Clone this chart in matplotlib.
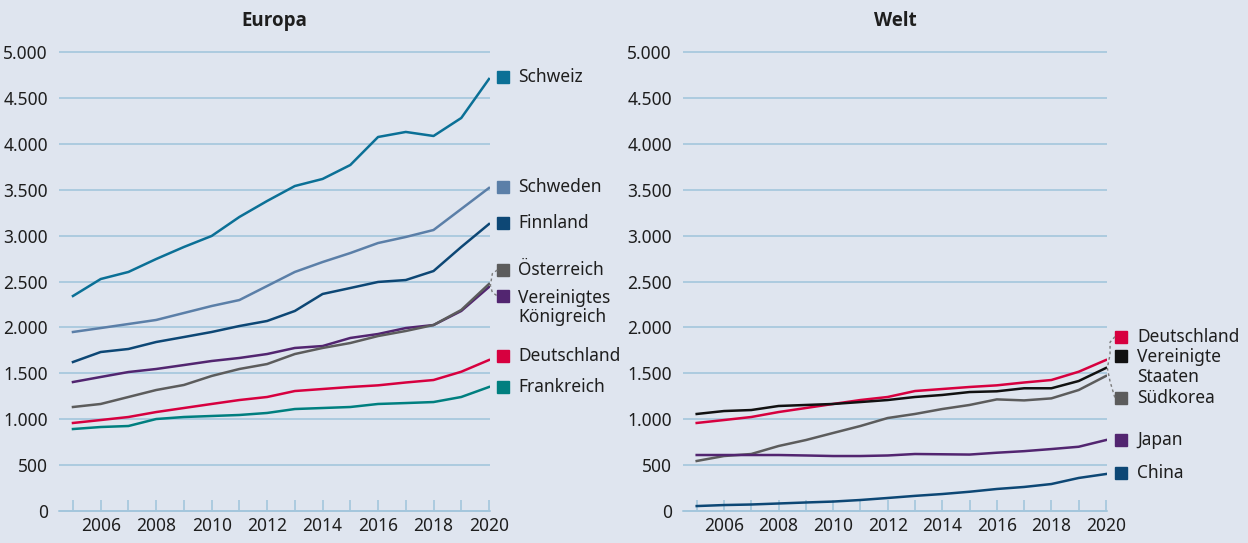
import numpy as np
import matplotlib.pyplot as plt
from matplotlib.ticker import FuncFormatter, MultipleLocator

plt.rcParams['font.family'] = ['Noto Sans', 'DejaVu Sans']

# Data
years = list(range(2005, 2021))

europa = {
    "Schweiz": [2342, 2527, 2604, 2745, 2876, 2996, 3203, 3377, 3540, 3617, 3769, 4074, 4129, 4085, 4281, 4706],
    "Schweden": [1950, 1993, 2037, 2081, 2157, 2233, 2298, 2451, 2604, 2712, 2810, 2919, 2985, 3061, 3290, 3519],
    "Finnland": [1623, 1732, 1765, 1841, 1895, 1950, 2015, 2070, 2179, 2364, 2429, 2495, 2516, 2614, 2876, 3126],
    "Vereinigtes\nKönigreich": [1405, 1460, 1514, 1547, 1590, 1634, 1667, 1710, 1776, 1797, 1885, 1928, 1993, 2026, 2179, 2440],
    "Österreich": [1133, 1166, 1242, 1318, 1373, 1471, 1547, 1601, 1710, 1776, 1830, 1906, 1961, 2026, 2190, 2473],
    "Deutschland": [959, 991, 1024, 1078, 1122, 1166, 1209, 1242, 1307, 1329, 1351, 1369, 1400, 1427, 1517, 1645],
    "Frankreich": [893, 915, 926, 1002, 1024, 1035, 1046, 1068, 1111, 1122, 1133, 1166, 1176, 1187, 1242, 1351],
}
europa_colors = {
    "Schweiz": "#0b7096",
    "Schweden": "#5b7fa8",
    "Finnland": "#0d4775",
    "Vereinigtes\nKönigreich": "#522570",
    "Österreich": "#5c5c5c",
    "Deutschland": "#d7003f",
    "Frankreich": "#007f7f",
}
# label positions (value units) on the right of the plot
europa_label_y = {
    "Schweiz": 4728, "Schweden": 3529, "Finnland": 3137, "Österreich": 2625,
    "Vereinigtes\nKönigreich": 2342, "Deutschland": 1688, "Frankreich": 1350,
}

welt = {
    "Deutschland": [959, 991, 1024, 1078, 1122, 1166, 1209, 1242, 1307, 1329, 1351, 1369, 1400, 1427, 1517, 1645],
    "Vereinigte\nStaaten": [1057, 1089, 1100, 1144, 1155, 1166, 1187, 1209, 1242, 1264, 1296, 1304, 1337, 1337, 1416, 1558],
    "Südkorea": [545, 599, 621, 708, 773, 850, 926, 1013, 1057, 1111, 1155, 1216, 1205, 1227, 1318, 1471],
    "Japan": [610, 610, 610, 610, 605, 599, 599, 605, 621, 618, 615, 635, 652, 675, 700, 773],
    "China": [54, 65, 71, 82, 93, 103, 120, 142, 165, 185, 210, 240, 262, 294, 360, 403],
}
welt_colors = {
    "Deutschland": "#d7003f",
    "Vereinigte\nStaaten": "#111111",
    "Südkorea": "#5c5c5c",
    "Japan": "#522570",
    "China": "#0d4775",
}
welt_label_y = {
    "Deutschland": 1899, "Vereinigte\nStaaten": 1692, "Südkorea": 1231,
    "Japan": 774, "China": 414,
}

bg = "#dfe5ef"
grid_c = "#a3c6dc"
text_c = "#1e1e1e"

fig = plt.figure(figsize=(12.48, 5.43), dpi=100)
fig.patch.set_facecolor(bg)

W, H = 1248, 543


def setup(ax, title):
    ax.set_facecolor(bg)
    ax.set_xlim(2004.5, 2020.04)
    ax.set_ylim(-100, 5100)
    for s in ['top', 'right', 'left']:
        ax.spines[s].set_visible(False)
    ax.spines['bottom'].set_position(('data', 0))
    ax.spines['bottom'].set_color(grid_c)
    ax.spines['bottom'].set_linewidth(1.2)
    ax.set_yticks(np.arange(0, 5001, 500))
    ax.yaxis.set_major_formatter(FuncFormatter(lambda v, p: f"{int(v):,}".replace(",", ".")))
    ax.tick_params(axis='y', length=0, pad=8, labelsize=12.5, labelcolor=text_c)
    ax.grid(axis='y', color=grid_c, linewidth=1.2)
    ax.set_axisbelow(True)
    ax.xaxis.set_major_locator(MultipleLocator(2))
    ax.xaxis.set_minor_locator(MultipleLocator(1))
    ax.tick_params(axis='x', which='both', direction='in', length=8, width=1.2,
                   color=grid_c, labelsize=12.5, labelcolor=text_c, pad=4)
    ax.set_xticks(range(2006, 2021, 2))
    ax.set_title(title, fontsize=13.5, fontweight='bold', color=text_c, pad=12,
                 family=['Open Sans', 'DejaVu Sans'])


def draw_panel(ax, series, colors, label_y, sq_x, txt_x):
    for name, vals in series.items():
        ax.plot(years, vals, color=colors[name], linewidth=1.8)
    for name, yv in label_y.items():
        ax.plot([sq_x], [yv], marker='s', ms=8.5, color=colors[name], clip_on=False, linestyle='none')
        if '\n' in name:
            ax.text(txt_x, yv + 80, name, fontsize=12.5, color=text_c, va='top', ha='left',
                    linespacing=1.12, clip_on=False)
        else:
            ax.text(txt_x, yv, name, fontsize=12.5, color=text_c, va='center', ha='left', clip_on=False)


# Europa panel
ax1 = fig.add_axes([59.1 / W, 1 - 520.2 / H, 431 / W, 477.4 / H])
setup(ax1, "Europa")
draw_panel(ax1, europa, europa_colors, europa_label_y, 2020.52, 2021.05)

# dashed bracket Österreich / Vereinigtes Königreich
end_e = (europa["Österreich"][-1] + europa["Vereinigtes\nKönigreich"][-1]) / 2
ax1.plot([2020.3, 2020.12, 2020.05, 2020.12, 2020.3],
         [europa_label_y["Österreich"], europa_label_y["Österreich"] - 40, end_e,
          europa_label_y["Vereinigtes\nKönigreich"] + 40, europa_label_y["Vereinigtes\nKönigreich"]],
         color="#7a7a7a", linewidth=1, linestyle=(0, (2, 2)), clip_on=False)

# Welt panel
ax2 = fig.add_axes([683.05 / W, 1 - 520.2 / H, 424 / W, 477.4 / H])
setup(ax2, "Welt")
draw_panel(ax2, welt, welt_colors, welt_label_y, 2020.55, 2021.14)

# dashed bracket Deutschland / Südkorea
ax2.plot([2020.33, 2020.15, 2020.15, 2020.05, 2020.15, 2020.33],
         [welt_label_y["Deutschland"], welt_label_y["Deutschland"] - 60, welt["Deutschland"][-1] + 60,
          welt["Vereinigte\nStaaten"][-1], welt["Südkorea"][-1] - 60, welt_label_y["Südkorea"]],
         color="#7a7a7a", linewidth=1, linestyle=(0, (2, 2)), clip_on=False)

fig.savefig("out.png", dpi=100, facecolor=bg)
